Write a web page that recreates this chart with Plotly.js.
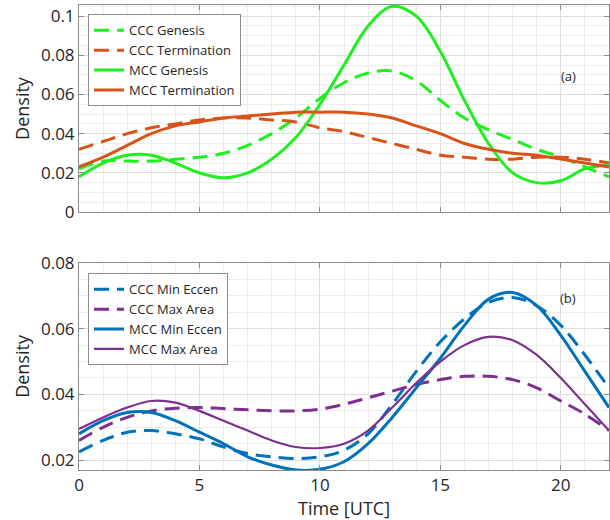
<!DOCTYPE html>
<html>
<head>
<meta charset="utf-8">
<script src="https://cdn.plot.ly/plotly-3.0.1.min.js"></script>
<style>html,body{margin:0;padding:0;background:#fff;}#chart{width:610px;height:520px;}</style>
</head>
<body>
<div id="chart"></div>
<script>
// Time axis (UTC hours)
const timeUTC = [0,1,2,3,4,5,6,7,8,9,10,11,12,13,14,15,16,17,18,19,20,21,22];

// Panel (a)
const cccGenesis     = [0.022,0.026,0.026,0.026,0.027,0.028,0.030,0.034,0.040,0.048,0.058,0.066,0.071,0.072,0.067,0.057,0.048,0.042,0.037,0.032,0.028,0.023,0.018];
const cccTermination = [0.032,0.036,0.040,0.043,0.045,0.047,0.048,0.048,0.047,0.046,0.043,0.041,0.038,0.035,0.032,0.029,0.028,0.027,0.027,0.028,0.028,0.027,0.025];
const mccGenesis     = [0.018,0.025,0.029,0.029,0.025,0.020,0.0175,0.020,0.027,0.038,0.055,0.075,0.095,0.105,0.100,0.082,0.057,0.035,0.020,0.015,0.016,0.022,0.024];
const mccTermination = [0.023,0.028,0.034,0.040,0.044,0.046,0.048,0.049,0.050,0.051,0.051,0.051,0.050,0.048,0.044,0.040,0.035,0.032,0.030,0.029,0.027,0.025,0.023];

// Panel (b)
const cccMinEccen = [0.0225,0.026,0.0285,0.029,0.028,0.0265,0.024,0.022,0.021,0.0205,0.021,0.023,0.028,0.037,0.047,0.056,0.063,0.068,0.0695,0.067,0.061,0.052,0.042];
const cccMaxArea  = [0.026,0.030,0.033,0.035,0.0358,0.036,0.0357,0.0353,0.035,0.035,0.0355,0.037,0.039,0.041,0.043,0.0445,0.0455,0.0455,0.0445,0.042,0.038,0.034,0.029];
const mccMinEccen = [0.028,0.032,0.0345,0.0345,0.032,0.0285,0.025,0.021,0.0185,0.017,0.0172,0.0195,0.025,0.033,0.042,0.051,0.061,0.069,0.071,0.067,0.058,0.047,0.036];
const mccMaxArea  = [0.0295,0.033,0.036,0.038,0.0375,0.035,0.032,0.029,0.026,0.024,0.0237,0.025,0.029,0.036,0.0435,0.050,0.055,0.0575,0.0565,0.052,0.045,0.037,0.029];

const xTickVals = [0,5,10,15,20];
const xTickText = ['0','5','10','15','20'];
const yTopVals = [0,0.02,0.04,0.06,0.08,0.1];
const yTopText = ['0','0.02','0.04','0.06','0.08','0.1'];
const yBotVals = [0.02,0.04,0.06,0.08];
const yBotText = ['0.02','0.04','0.06','0.08'];

const GREEN = '#1ef01e', ORANGE = '#D95319', BLUE = '#0072BD', PURPLE = '#7E2F8E';
const DASH = '15px,8px';

function tr(y, name, color, dash, width, xa, ya, leg) {
  return {x: timeUTC, y: y, name: name, type: 'scatter', mode: 'lines',
    line: {color: color, width: width, dash: dash, shape: 'spline', smoothing: 1},
    xaxis: xa, yaxis: ya, legend: leg};
}

const data = [
  tr(cccGenesis, 'CCC Genesis', GREEN, DASH, 3, 'x', 'y', 'legend'),
  tr(cccTermination, 'CCC Termination', ORANGE, DASH, 3, 'x', 'y', 'legend'),
  tr(mccGenesis, 'MCC Genesis', GREEN, 'solid', 3, 'x', 'y', 'legend'),
  tr(mccTermination, 'MCC Termination', ORANGE, 'solid', 3, 'x', 'y', 'legend'),
  tr(cccMinEccen, 'CCC Min Eccen', BLUE, DASH, 3, 'x2', 'y2', 'legend2'),
  tr(cccMaxArea, 'CCC Max Area', PURPLE, DASH, 3, 'x2', 'y2', 'legend2'),
  tr(mccMinEccen, 'MCC Min Eccen', BLUE, 'solid', 3, 'x2', 'y2', 'legend2'),
  tr(mccMaxArea, 'MCC Max Area', PURPLE, 'solid', 2.2, 'x2', 'y2', 'legend2')
];

const FONT = 'Open Sans, sans-serif';
const axisCommon = {
  showline: true, linecolor: '#8c8c8c', linewidth: 1, mirror: 'ticks',
  ticks: 'inside', ticklen: 5, tickcolor: '#8c8c8c',
  showgrid: true, gridcolor: '#dedede', gridwidth: 1, zeroline: false,
  tickfont: {family: FONT, size: 17, color: '#262626'}
};
const xMinor = {dtick: 1, showgrid: true, gridcolor: '#ececec', ticks: ''};
const yMinor = {dtick: 0.005, showgrid: true, gridcolor: '#ececec', ticks: ''};

const layout = {
  width: 610, height: 520,
  margin: {l: 79, r: 1, t: 5, b: 50},
  paper_bgcolor: '#fff', plot_bgcolor: '#fff',
  font: {family: FONT, color: '#262626'},
  showlegend: true,
  xaxis: Object.assign({}, axisCommon, {domain: [0,1], range: [0,22], anchor: 'y',
    tickmode: 'array', tickvals: xTickVals, ticktext: xTickText, showticklabels: false, minor: xMinor}),
  yaxis: Object.assign({}, axisCommon, {domain: [0.5548,1], range: [0,0.1057], anchor: 'x',
    tickmode: 'array', tickvals: yTopVals, ticktext: yTopText, minor: yMinor,
    title: {text: 'Density', font: {family: FONT, size: 18, color: '#262626'}, standoff: 6}}),
  xaxis2: Object.assign({}, axisCommon, {domain: [0,1], range: [0,22], anchor: 'y2',
    tickmode: 'array', tickvals: xTickVals, ticktext: xTickText, minor: xMinor,
    title: {text: 'Time [UTC]', font: {family: FONT, size: 18, color: '#262626'}, standoff: 4}}),
  yaxis2: Object.assign({}, axisCommon, {domain: [0,0.4452], range: [0.017,0.08], anchor: 'x2',
    tickmode: 'array', tickvals: yBotVals, ticktext: yBotText, minor: yMinor,
    title: {text: 'Density', font: {family: FONT, size: 18, color: '#262626'}, standoff: 6}}),
  legend: {x: 0.017, y: 0.98, xanchor: 'left', yanchor: 'top', xref: 'paper', yref: 'paper',
    bgcolor: '#fff', bordercolor: '#8c8c8c', borderwidth: 1,
    font: {family: FONT, size: 13, color: '#262626'}, itemwidth: 30, tracegroupgap: 0},
  legend2: {x: 0.017, y: 0.423, xanchor: 'left', yanchor: 'top', xref: 'paper', yref: 'paper',
    bgcolor: '#fff', bordercolor: '#8c8c8c', borderwidth: 1,
    font: {family: FONT, size: 13, color: '#262626'}, itemwidth: 30, tracegroupgap: 0},
  annotations: [
    {text: '(a)', xref: 'x', yref: 'y', x: 20.3, y: 0.0697, showarrow: false,
      font: {family: FONT, size: 13, color: '#262626'}},
    {text: '(b)', xref: 'x2', yref: 'y2', x: 20.3, y: 0.0693, showarrow: false,
      font: {family: FONT, size: 13, color: '#262626'}}
  ]
};

Plotly.newPlot('chart', data, layout, {displayModeBar: false, staticPlot: true});
</script>
</body>
</html>
